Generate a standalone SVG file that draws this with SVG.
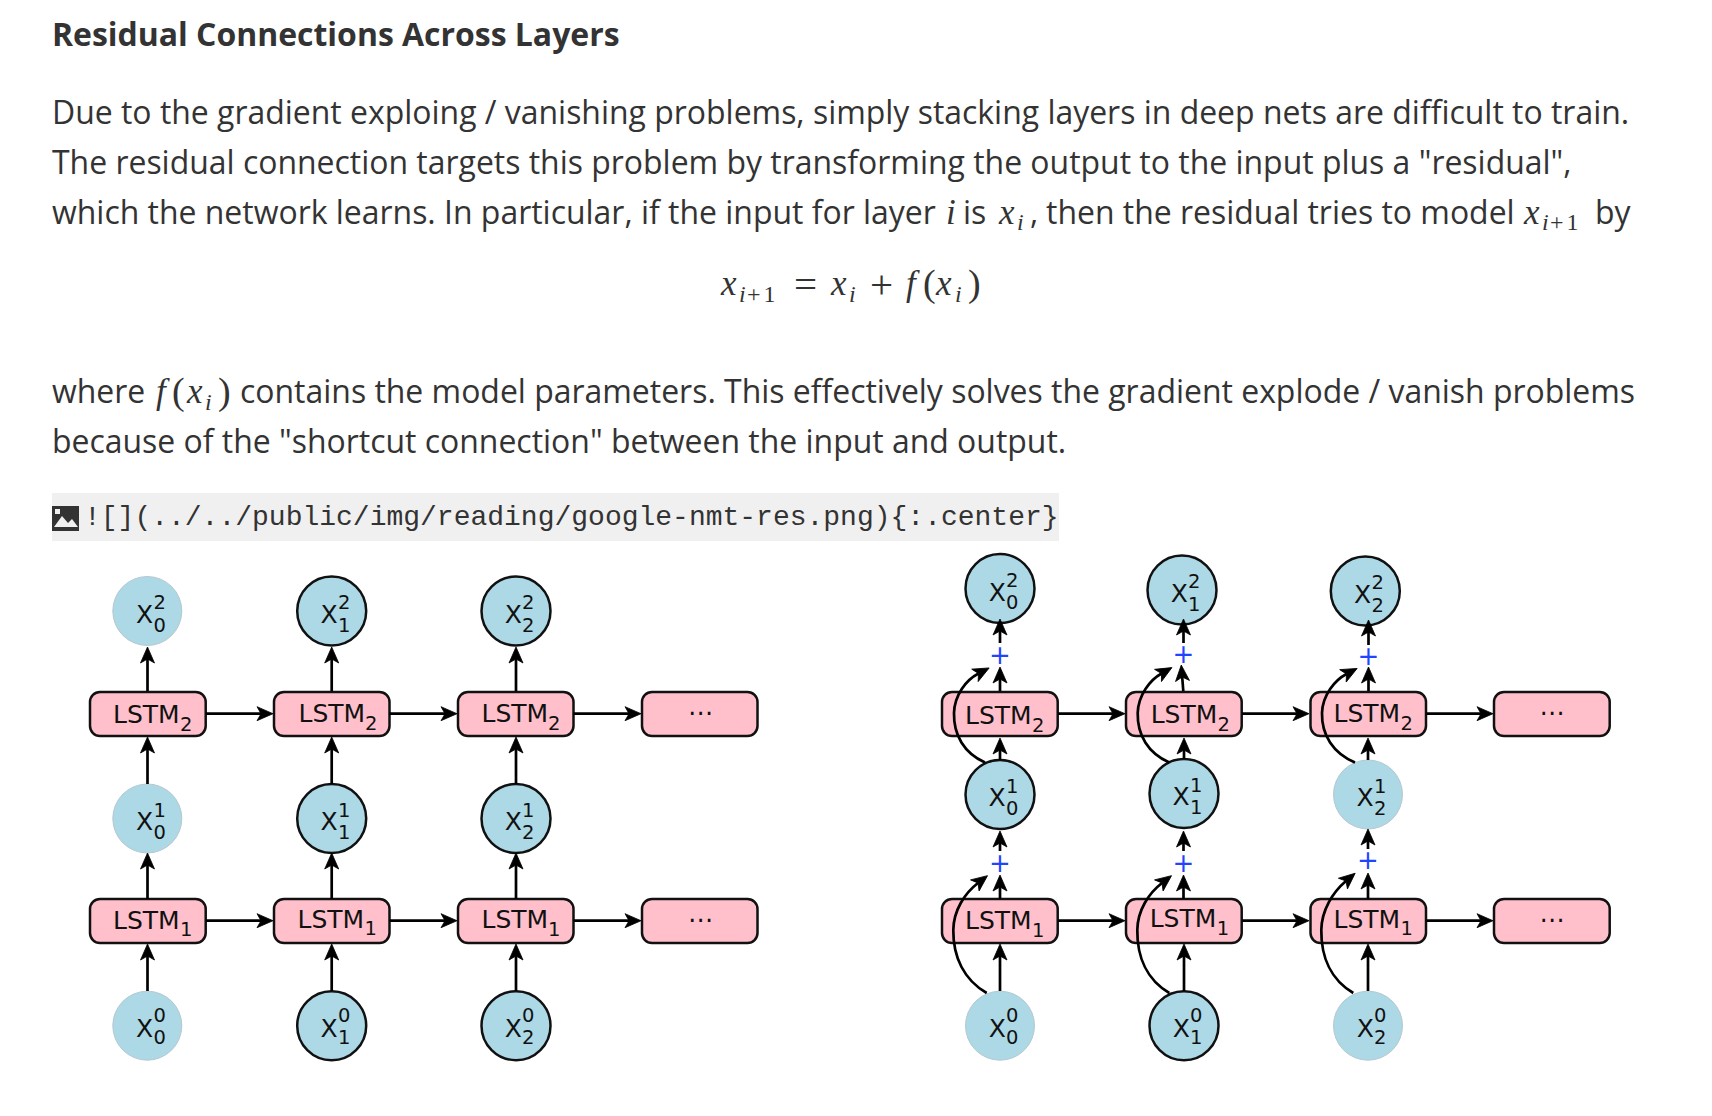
<svg xmlns="http://www.w3.org/2000/svg" width="1712" height="1116" viewBox="0 0 1712 1116">
<style>
text{white-space:pre}
.h{font:700 31.95px "Open Sans",sans-serif;fill:#333}
.b{font:400 31.95px "Open Sans",sans-serif;fill:#333}
.m{font:italic 400 35px "Liberation Serif",serif;fill:#333}
.s{font:italic 400 24px "Liberation Serif",serif;fill:#333}
.r{font:400 38px "Liberation Serif",serif;fill:#333}
.q{font:400 41px "Liberation Serif",serif;fill:#333}
.rs{font:400 24px "Liberation Serif",serif;fill:#333;letter-spacing:3px}
.c{font:400 28px "Liberation Mono",monospace;fill:#333}
.n{font:400 25px "DejaVu Sans",sans-serif;fill:#111}
.d{font:400 19.5px "DejaVu Sans",sans-serif;fill:#111}
.p{font:400 26px "DejaVu Sans",sans-serif;fill:#2244ff;text-anchor:middle}
.o{fill:#add8e6;stroke:#111;stroke-width:2.5}
.f{fill:#add8e6;stroke:#b4c8d0;stroke-width:1}
.x{fill:#ffc0cb;stroke:#111;stroke-width:2.5}
.a{fill:none;stroke:#000;stroke-width:2.7;marker-end:url(#ah)}
</style>
<defs>
<marker id="ah" markerUnits="userSpaceOnUse" markerWidth="20" markerHeight="20" refX="5" refY="10" orient="auto"><path d="M1 3L17 10L1 17L5 10Z" fill="#000" stroke="#000" stroke-width="0.8"/></marker>
</defs>
<rect width="1712" height="1116" fill="#fff"/>
<g id="article">
<text class="h" x="52" y="46">Residual Connections Across Layers</text>
<text class="b" x="52" y="124">Due to the gradient exploing / vanishing problems, simply stacking layers in deep nets are difficult to train.</text>
<text class="b" x="52" y="174">The residual connection targets this problem by transforming the output to the input plus a "residual",</text>
<text class="b" x="52" y="224">which the network learns. In particular, if the input for layer</text>
<text class="m" x="946" y="224">i</text>
<text class="b" x="963" y="224">is</text>
<text class="m" x="999" y="224">x</text><text class="s" x="1017" y="230">i</text>
<text class="b" x="1030" y="224">,</text>
<text class="b" x="1046" y="224">then the residual tries to model</text>
<text class="m" x="1524" y="224">x</text><text class="s" x="1542" y="230">i</text><text class="rs" x="1550" y="230">+1</text>
<text class="b" x="1595" y="224">by</text>
<text class="m" x="721" y="295">x</text><text class="s" x="739" y="302">i</text><text class="rs" x="747" y="302">+1</text>
<text class="q" x="794" y="298">=</text>
<text class="m" x="831" y="295">x</text><text class="s" x="849" y="302">i</text>
<text class="q" x="870" y="298">+</text>
<text class="m" x="906" y="295">f</text><text class="r" x="923" y="296">(</text><text class="m" x="936" y="295">x</text><text class="s" x="955" y="302">i</text><text class="r" x="968" y="296">)</text>
<text class="b" x="52" y="403">where</text>
<text class="m" x="156" y="403">f</text><text class="r" x="172" y="404">(</text><text class="m" x="187" y="403">x</text><text class="s" x="205" y="410">i</text><text class="r" x="218" y="404">)</text>
<text class="b" x="240" y="403">contains the model parameters. This effectively solves the gradient explode / vanish problems</text>
<text class="b" x="52" y="453">because of the "shortcut connection" between the input and output.</text>
<rect x="52" y="493" width="1007" height="48" fill="#f0f0f0"/>
<path d="M52 506H79V531H52Z" fill="#333"/>
<path d="M54 527L62 516L68 523L72 519L78 527ZM55 509h5v5h-5Z" fill="#f0f0f0"/>
<text class="c" x="84" y="525">![](../../public/img/reading/google-nmt-res.png){:.center}</text>
</g>
<g id="left-diagram">
<g id="l-x0-2"><circle class="f" cx="147.3" cy="611" r="34.5"/><text class="n" x="136" y="623.3">X</text><text class="d" x="153.5" y="609.3">2</text><text class="d" x="153.5" y="631.7">0</text></g>
<g id="l-x1-2"><circle class="o" cx="331.7" cy="611" r="34.5"/><text class="n" x="320.5" y="623.3">X</text><text class="d" x="338" y="609.3">2</text><text class="d" x="338" y="631.7">1</text></g>
<g id="l-x2-2"><circle class="o" cx="516" cy="611" r="34.5"/><text class="n" x="504.7" y="623.3">X</text><text class="d" x="522" y="609.3">2</text><text class="d" x="522" y="631.7">2</text></g>
<g id="l-x0-1"><circle class="f" cx="147.3" cy="818.5" r="34.5"/><text class="n" x="136" y="830.3">X</text><text class="d" x="153.5" y="816.7">1</text><text class="d" x="153.5" y="838.5">0</text></g>
<g id="l-x1-1"><circle class="o" cx="331.7" cy="818.5" r="34.5"/><text class="n" x="320.5" y="830.3">X</text><text class="d" x="338" y="816.7">1</text><text class="d" x="338" y="838.5">1</text></g>
<g id="l-x2-1"><circle class="o" cx="516" cy="818.5" r="34.5"/><text class="n" x="504.7" y="830.3">X</text><text class="d" x="522" y="816.7">1</text><text class="d" x="522" y="838.5">2</text></g>
<g id="l-x0-0"><circle class="f" cx="147.3" cy="1025.7" r="34.5"/><text class="n" x="136" y="1036.7">X</text><text class="d" x="153.5" y="1021.7">0</text><text class="d" x="153.5" y="1044">0</text></g>
<g id="l-x1-0"><circle class="o" cx="331.7" cy="1025.7" r="34.5"/><text class="n" x="320.5" y="1036.7">X</text><text class="d" x="338" y="1021.7">0</text><text class="d" x="338" y="1044">1</text></g>
<g id="l-x2-0"><circle class="o" cx="516" cy="1025.7" r="34.5"/><text class="n" x="504.7" y="1036.7">X</text><text class="d" x="522" y="1021.7">0</text><text class="d" x="522" y="1044">2</text></g>
<g id="l-lstm2-0"><rect class="x" x="90" y="692" width="115.7" height="44" rx="10"/><text class="n" x="113" y="723.3">LSTM</text><text class="d" x="180" y="731">2</text></g>
<g id="l-lstm2-1"><rect class="x" x="274" y="692" width="115.5" height="44" rx="10"/><text class="n" x="298.5" y="722">LSTM</text><text class="d" x="365" y="730">2</text></g>
<g id="l-lstm2-2"><rect class="x" x="458" y="692" width="115.5" height="44" rx="10"/><text class="n" x="481.5" y="722">LSTM</text><text class="d" x="548" y="730">2</text></g>
<g id="l-more-2"><rect class="x" x="642" y="692" width="115.5" height="44" rx="10"/><text class="n" x="688" y="721">⋯</text></g>
<g id="l-lstm1-0"><rect class="x" x="90" y="899" width="115.7" height="44" rx="10"/><text class="n" x="113" y="929">LSTM</text><text class="d" x="180" y="936">1</text></g>
<g id="l-lstm1-1"><rect class="x" x="274" y="899" width="115.5" height="44" rx="10"/><text class="n" x="297.5" y="927.5">LSTM</text><text class="d" x="364.5" y="935">1</text></g>
<g id="l-lstm1-2"><rect class="x" x="458" y="899" width="115.5" height="44" rx="10"/><text class="n" x="481.5" y="928">LSTM</text><text class="d" x="548" y="936">1</text></g>
<g id="l-more-1"><rect class="x" x="642" y="899" width="115.5" height="44" rx="10"/><text class="n" x="688" y="928">⋯</text></g>
</g>
<g id="right-diagram">
<g id="r-x0-2"><circle class="o" cx="1000" cy="588.5" r="34.5"/><text class="n" x="988.7" y="600.8">X</text><text class="d" x="1006" y="586.8">2</text><text class="d" x="1006" y="609">0</text></g>
<g id="r-x1-2"><circle class="o" cx="1182" cy="590" r="34.5"/><text class="n" x="1170.7" y="602.3">X</text><text class="d" x="1188" y="588.3">2</text><text class="d" x="1188" y="610.5">1</text></g>
<g id="r-x2-2"><circle class="o" cx="1365.3" cy="591" r="34.5"/><text class="n" x="1354" y="603.3">X</text><text class="d" x="1371.5" y="589.3">2</text><text class="d" x="1371.5" y="611.5">2</text></g>
<g id="r-x0-1"><circle class="o" cx="1000" cy="794.5" r="34.5"/><text class="n" x="988.5" y="806.3">X</text><text class="d" x="1006" y="792.7">1</text><text class="d" x="1006" y="814.5">0</text></g>
<g id="r-x1-1"><circle class="o" cx="1184" cy="793.5" r="34.5"/><text class="n" x="1172.5" y="805.3">X</text><text class="d" x="1190" y="791.7">1</text><text class="d" x="1190" y="813.5">1</text></g>
<g id="r-x2-1"><circle class="f" cx="1368" cy="794.5" r="34.5"/><text class="n" x="1356.5" y="806.3">X</text><text class="d" x="1374" y="792.7">1</text><text class="d" x="1374" y="814.5">2</text></g>
<g id="r-x0-0"><circle class="f" cx="1000" cy="1025.7" r="34.5"/><text class="n" x="988.7" y="1036.7">X</text><text class="d" x="1006" y="1021.7">0</text><text class="d" x="1006" y="1044">0</text></g>
<g id="r-x1-0"><circle class="o" cx="1184" cy="1025.7" r="34.5"/><text class="n" x="1172.7" y="1036.7">X</text><text class="d" x="1190" y="1021.7">0</text><text class="d" x="1190" y="1044">1</text></g>
<g id="r-x2-0"><circle class="f" cx="1368" cy="1025.7" r="34.5"/><text class="n" x="1356.7" y="1036.7">X</text><text class="d" x="1374" y="1021.7">0</text><text class="d" x="1374" y="1044">2</text></g>
<g id="r-lstm2-0"><rect class="x" x="942" y="692" width="115.7" height="44" rx="10"/><text class="n" x="965" y="724">LSTM</text><text class="d" x="1032" y="731.5">2</text></g>
<g id="r-lstm2-1"><rect class="x" x="1126" y="692" width="115.7" height="44" rx="10"/><text class="n" x="1150.7" y="722.7">LSTM</text><text class="d" x="1217.5" y="730.5">2</text></g>
<g id="r-lstm2-2"><rect class="x" x="1310.5" y="692" width="115.5" height="44" rx="10"/><text class="n" x="1333.5" y="722">LSTM</text><text class="d" x="1400.5" y="730">2</text></g>
<g id="r-more-2"><rect class="x" x="1494" y="692" width="115.7" height="44" rx="10"/><text class="n" x="1539.5" y="721">⋯</text></g>
<g id="r-lstm1-0"><rect class="x" x="942" y="899" width="115.7" height="44" rx="10"/><text class="n" x="965" y="929">LSTM</text><text class="d" x="1032" y="936.5">1</text></g>
<g id="r-lstm1-1"><rect class="x" x="1126" y="899" width="115.7" height="44" rx="10"/><text class="n" x="1149.7" y="927.3">LSTM</text><text class="d" x="1216.7" y="935">1</text></g>
<g id="r-lstm1-2"><rect class="x" x="1310.5" y="899" width="115.5" height="44" rx="10"/><text class="n" x="1333.5" y="927.5">LSTM</text><text class="d" x="1400.5" y="935">1</text></g>
<g id="r-more-1"><rect class="x" x="1494" y="899" width="115.7" height="44" rx="10"/><text class="n" x="1539.5" y="928">⋯</text></g>
<g id="r-plus"><text class="p" x="1000" y="664">+</text><text class="p" x="1183.3" y="663">+</text><text class="p" x="1368.5" y="665">+</text><text class="p" x="1000" y="871.7">+</text><text class="p" x="1183.5" y="871.7">+</text><text class="p" x="1368" y="869">+</text></g>
</g>
<g id="connectors">
<path class="a" d="M147.5 691V659"/><path class="a" d="M331.7 691V659"/><path class="a" d="M516 691V659"/>
<path class="a" d="M147.5 784V749"/><path class="a" d="M331.7 784V749"/><path class="a" d="M516 784V749"/>
<path class="a" d="M147.5 899V865"/><path class="a" d="M331.7 899V865"/><path class="a" d="M516 899V865"/>
<path class="a" d="M147.5 991V956"/><path class="a" d="M331.7 991V956"/><path class="a" d="M516 991V956"/>
<path class="a" d="M206 713.7H261"/><path class="a" d="M389.5 713.7H445"/><path class="a" d="M573.5 713.7H629"/>
<path class="a" d="M206 920.7H261"/><path class="a" d="M389.5 920.7H445"/><path class="a" d="M573.5 920.7H629"/>
<path class="a" d="M1058 713.7H1113"/><path class="a" d="M1242 713.7H1297"/><path class="a" d="M1426.5 713.7H1481"/>
<path class="a" d="M1058 920.7H1113"/><path class="a" d="M1242 920.7H1297"/><path class="a" d="M1426.5 920.7H1481"/>
<path class="a" d="M1000 643V631"/><path class="a" d="M1183.5 643V631"/><path class="a" d="M1368.5 645V632"/>
<path class="a" d="M1000 691V679"/><path class="a" d="M1183.3 691L1182.2 677"/><path class="a" d="M1368.5 691V679"/>
<path class="a" d="M1000 760V750"/><path class="a" d="M1184 759V750"/><path class="a" d="M1368 760V750"/>
<path class="a" d="M1000 851V843"/><path class="a" d="M1183.5 851V843"/><path class="a" d="M1368 849V841"/>
<path class="a" d="M1000 899V887"/><path class="a" d="M1183.5 899V887"/><path class="a" d="M1368 899V885"/>
<path class="a" d="M1000 991V956"/><path class="a" d="M1184 991V956"/><path class="a" d="M1368 991V956"/>
<path class="a" d="M985 762.5C964 753 953.5 735 954 713C954.5 695 966 680 978.5 673.5"/>
<path class="a" d="M1169.3 762.5C1148 753 1137.2 735 1137.7 713C1138.2 695 1150 680 1161.5 673.5"/>
<path class="a" d="M1355 762.5C1333 753 1321.5 735 1322 713C1322.5 695 1335 680 1346.5 674"/>
<path class="a" d="M986.7 993C964 980 953 957 953.3 930C953.6 910 965 893 978 883"/>
<path class="a" d="M1169.3 993C1147 980 1137 957 1137.3 930C1137.6 910 1149 893 1162 883"/>
<path class="a" d="M1353.3 993C1331 980 1321 957 1321.3 930C1321.6 910 1333 892 1346 881"/>
</g>
</svg>
